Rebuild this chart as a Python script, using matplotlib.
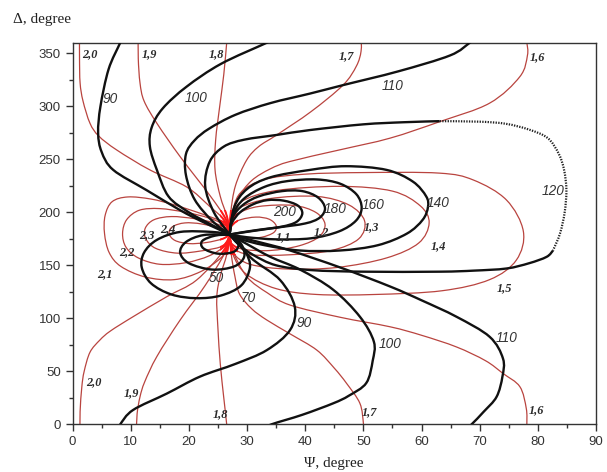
import numpy as np
import matplotlib
matplotlib.use("Agg")
import matplotlib.pyplot as plt
from matplotlib.path import Path
from matplotlib.patches import PathPatch, Rectangle

# ---------------- data (Psi, Delta) ----------------
C = (27.0, 179.0)

# black curves: constant film thickness d
D30 = [C, (24.5, 178), (22.3, 173), (22.5, 166), (25, 161), (27.8, 163), (28.5, 171), C]
D50 = [C, (22.5, 178.5), (19.5, 172), (18.5, 162), (20, 152), (24, 146), (27.8, 149), (29.5, 158), (29, 170), C]
D70 = [C, (24, 181.5), (18.5, 181.5), (14.5, 174), (12.3, 162), (11.9, 148), (13.5, 133), (17, 122.5),
       (21.3, 119), (25.5, 121.5), (29, 131), (30.5, 148), (29.8, 162), (28.3, 172), C]
D90_UP = [C, (25.3, 183.5), (22, 192), (18.5, 202), (12.7, 221), (7, 240), (5, 257), (4.4, 275), (4.8, 300),
          (6.2, 335), (8.2, 360), (8.8, 368)]
D90_LO = [C, (29, 167), (31.1, 155), (35.7, 136), (38.2, 111), (37.4, 89), (33.4, 70), (28, 57), (21.9, 45),
          (16.2, 29), (10.4, 13.5), (8.2, 0), (7.7, -6)]
D100_UP = [C, (24, 188), (20, 200), (16.5, 215), (14.5, 240), (13.3, 262), (13.6, 280), (15.5, 298),
           (19.6, 318.5), (25.5, 340), (33.4, 360), (35.5, 366)]
D100_LO = [C, (30, 170), (34, 158), (39.1, 146), (44.8, 127), (49.4, 101.5), (51.8, 78), (51.6, 60),
           (50.5, 39), (47.5, 27), (44.8, 19.8), (39.5, 9), (34.2, 0), (32.8, -4)]
D110_UP = [C, (24, 192), (21, 212), (19.5, 235), (19.5, 255), (21, 268), (23.5, 279), (28, 292), (34, 303),
           (40.8, 312), (46.5, 320), (56, 333), (64.9, 348), (68.3, 360), (69.6, 365)]
D110_LO = [C, (32, 172), (37.4, 164), (46, 148), (54.6, 130), (60, 117), (66, 101.5), (71.7, 82.6), (74, 62),
           (73.9, 45), (72.9, 26), (70.7, 12), (68.6, 0), (67.5, -5)]
D120_A = [C, (24.3, 200), (22.8, 225), (23.6, 248), (26, 262), (29.5, 268.5), (35.1, 273), (40.8, 277.6),
          (50, 283), (57, 285), (63.1, 286)]
D120_DOT = [(63.1, 286), (70, 285.5), (74.5, 283.5), (78.5, 278), (81.7, 270), (83.6, 255), (84.5, 240),
            (84.9, 221), (84.6, 200), (83.8, 180), (82.6, 164)]
D120_B = [(82.6, 164), (81.5, 158), (78.5, 152), (74.6, 147), (69, 145), (63.1, 144), (50, 144), (41, 145.5),
          (35, 150), (31, 160), (28.5, 170), C]
D140 = [C, (27.8, 205), (30, 222), (34, 233), (40.8, 240), (47, 243.5), (54, 240), (58.5, 229), (60.8, 215),
        (61.1, 205), (60.2, 193), (57.5, 180), (52.5, 169), (46, 164), (39, 164), (33, 169), (29, 174.5), C]
D160 = [C, (27.6, 198), (29.5, 213), (33, 224), (37, 229.5), (42, 231), (46, 227), (48.8, 217), (49.7, 204),
        (48.7, 192), (45.8, 182), (41, 175.5), (35, 174.5), (30, 176.5), C]
D180 = [C, (27.5, 195), (29.3, 207), (32, 215), (36, 220), (39.5, 220), (42.2, 214), (43.4, 204), (42.5, 195),
        (40, 189.5), (35, 185.5), (30.5, 182), C]
D200 = [C, (27.4, 190), (28.8, 200), (31, 207.5), (33.5, 211.5), (36.3, 211), (38.7, 206.5), (39.5, 199),
        (38.5, 191), (36, 186.5), (32, 183.5), (29, 181), C]

# red curves: constant refractive index n
N11 = [C, (27.2, 186), (28.6, 192.5), (31.5, 195.5), (33.8, 193.5), (35, 187.5), (34.6, 181), (32.5, 176.5),
       (29.8, 175.5), (27.8, 176.5), C]
N12 = [C, (27.2, 190), (28.5, 199), (32, 205.5), (38, 206.5), (41.8, 200), (43.4, 189), (42.4, 177), (39, 168.5),
       (34, 164), (29.5, 165), (27.4, 170), C]
N13 = [C, (27.2, 192), (28.6, 204), (34, 213), (42, 215), (47.5, 207), (50.2, 192), (49.2, 175), (44.5, 164),
       (37.5, 160), (30.5, 160), (27.5, 167), C]
N14 = [C, (27.2, 194), (29, 210), (35, 220.5), (46, 224.5), (55, 220), (59.8, 206), (61.3, 190), (59.5, 171),
       (54, 157), (45.5, 148), (37, 146.5), (30.5, 151), (27.6, 162), C]
N15 = [C, (27.3, 196), (28.8, 218), (33, 231), (40, 236), (50, 237.5), (63, 237), (68.9, 230.5), (74.6, 211.6),
       (77.5, 182), (76.3, 155), (71.7, 136.5), (63.5, 126), (52, 122.5), (42, 122.5), (35, 128), (29.8, 142),
       (27.6, 160), C]
N16_UP = [C, (27.3, 196), (28.5, 214), (30.8, 230), (34, 241), (37.4, 248), (46, 259), (54.6, 270), (63.1, 285.5),
          (71.7, 303), (76.9, 328), (78.2, 348), (78.1, 360), (77.9, 366)]
N16_LO = [C, (27.6, 163), (30, 139), (33.5, 124), (37.4, 112.5), (46, 101), (54.6, 92), (60, 84), (66, 73),
          (71, 60), (74, 48), (76.9, 35.5), (78, 15), (78.1, 0), (78.1, -6)]
N17_UP = [C, (27.2, 200), (28, 225), (29.9, 249), (32, 262), (35.1, 273), (41, 295), (46.5, 320), (48.8, 338),
          (49.6, 352), (49.6, 366)]
N17_LO = [C, (27.3, 160), (27.9, 140), (28.7, 123), (30.8, 109), (33.4, 98.4), (37.5, 85), (42, 70), (45, 53),
          (47.1, 38.7), (49.4, 19.8), (50, 1), (50, -6)]
N18_UP = [C, (26.6, 195), (25.4, 215), (24.5, 240), (24.6, 268), (25.3, 300), (26, 330), (26.5, 360), (26.6, 366)]
N18_LO = [C, (26.5, 160), (25.4, 140), (24.8, 120), (25, 90), (25.4, 57), (26, 25), (26.5, 0), (26.5, -6)]
N19_UP = [C, (26.3, 194), (23.6, 216), (18.5, 252.5), (14.5, 284), (12.3, 305), (11.6, 322), (11.3, 345),
          (11.3, 366)]
N19_LO = [C, (26.3, 163), (22.8, 131), (18.5, 98.4), (14.5, 64), (12.4, 40), (11.6, 26), (11.1, 10), (11, -6)]
N20_UP = [C, (26, 193), (23.5, 206), (19.6, 224), (13.3, 240), (7.6, 258.8), (4.5, 272), (3, 284), (1.8, 305),
          (1.3, 322), (1.2, 345), (1.2, 366)]
N20_LO = [C, (26, 164), (21.3, 136), (16.2, 120.4), (10.4, 101.5), (6.5, 88), (4.7, 79.5), (3, 68), (2, 50),
          (1.6, 35.5), (1.3, 12), (1.3, -6)]
N21 = [C, (26.5, 189), (22.5, 198), (17.5, 207), (13.5, 212.5), (9.5, 214.5), (6.8, 210), (5.6, 197), (5.5, 180),
       (6.3, 162), (8.3, 149), (12.5, 139), (17.5, 136.5), (22, 144), (25.5, 157), (26.7, 168), C]
N22 = [C, (26.5, 187), (23.5, 194.5), (19.5, 200), (15, 203.5), (11.5, 202), (9.3, 193), (8.6, 180), (9.2, 167),
       (11.3, 157), (15, 151), (19.5, 152.5), (23.5, 159), (26.3, 169), C]
N23 = [C, (26.4, 185), (24, 190.5), (21, 194), (17, 196), (14, 193), (12.5, 185), (12.6, 175), (14.3, 166),
       (18, 161.5), (22, 163.5), (25.5, 167.5), (26.6, 173), C]
N24 = [C, (25.8, 184), (22.2, 189), (19.3, 190), (17.2, 186.5), (16.6, 180), (17.6, 173.5), (20, 170.5),
       (23, 171.5), (25.8, 175), C]

BLACK_SOLID = [D30, D50, D70, D90_UP, D90_LO, D100_UP, D100_LO, D110_UP, D110_LO, D120_A, D120_B,
               D140, D160, D180, D200]
BLACK_DOTTED = [D120_DOT]
RED = [N11, N12, N13, N14, N15, N16_UP, N16_LO, N17_UP, N17_LO, N18_UP, N18_LO, N19_UP, N19_LO,
       N20_UP, N20_LO, N21, N22, N23, N24]

D_LABELS = ["200", "180", "160", "140", "120", "110", "110", "100", "100", "90", "90", "70", "50"]
D_LABEL_AT = [(36.5, 200), (45.1, 202.8), (51.7, 206.9), (62.9, 209), (82.6, 220.4), (55.1, 319), (74.6, 81),
              (21.3, 307.5), (54.6, 76), (6.4, 307), (39.8, 95.3), (30.2, 118.9), (24.8, 137.7)]
N_LABELS = ["1,1", "1,2", "1,3", "1,4", "1,5", "1,6", "1,6", "1,7", "1,7", "1,8", "1,8", "1,9", "1,9",
            "2,0", "2,0", "2,1", "2,2", "2,3", "2,4"]
N_LABEL_AT = [(36.2, 177), (42.8, 181.7), (51.4, 185.8), (62.9, 168.2), (74.3, 128.9), (80, 346), (79.8, 13.5),
              (47.1, 347.7), (51.1, 11.9), (24.7, 349.3), (25.5, 9.4), (13.3, 349), (10.1, 29), (3, 349),
              (3.6, 40), (5.5, 141.8), (9.3, 162.8), (12.7, 178.6), (16.3, 184)]


def smooth_path(pts):
    P = np.asarray(pts, float)
    n = len(P)
    verts = [P[0]]
    codes = [Path.MOVETO]
    for i in range(n - 1):
        p0 = P[i - 1] if i > 0 else P[i]
        p1 = P[i]
        p2 = P[i + 1]
        p3 = P[i + 2] if i + 2 < n else P[i + 1]
        verts += [p1 + (p2 - p0) / 6.0, p2 - (p3 - p1) / 6.0, p2]
        codes += [Path.CURVE4] * 3
    return Path(verts, codes)


fig = plt.figure(figsize=(6.07, 4.72), dpi=100)
ax = fig.add_axes([0.1195, 0.101, 0.8625, 0.8085])
ax.set_xlim(0, 90)
ax.set_ylim(0, 360)

red_col = "#b9443f"
blob = Rectangle((25.4, 160), 3.0, 42, transform=ax.transData)
for pts in RED:
    ax.add_patch(PathPatch(smooth_path(pts), fill=False, edgecolor=red_col, lw=0.9, zorder=2))
    hot = PathPatch(smooth_path(pts), fill=False, edgecolor="#ff1a1a", lw=1.4, zorder=2.5)
    ax.add_patch(hot)
    hot.set_clip_path(blob)
for pts in BLACK_SOLID:
    ax.add_patch(PathPatch(smooth_path(pts), fill=False, edgecolor="#111111", lw=1.7, zorder=3))
for pts in BLACK_DOTTED:
    ax.add_patch(PathPatch(smooth_path(pts), fill=False, edgecolor="#222222", lw=1.6,
                           linestyle=(0, (0.6, 0.6)), zorder=3))

for txt, (x, y) in zip(D_LABELS, D_LABEL_AT):
    ax.text(x, y, txt, fontsize=9.8, style="italic", family="Liberation Sans", color="#333333",
            ha="center", va="center", zorder=5)
for txt, (x, y) in zip(N_LABELS, N_LABEL_AT):
    ax.text(x, y, txt, fontsize=8.8, style="italic", weight="bold", family="Liberation Serif",
            color="#2a2a2a", ha="center", va="center", zorder=5)

ax.set_xticks(np.arange(0, 91, 10))
ax.set_xticks(np.arange(5, 90, 10), minor=True)
ax.set_yticks(np.arange(0, 351, 50))
ax.set_yticks(np.arange(25, 360, 50), minor=True)
ax.tick_params(which="major", direction="out", length=5, width=1, labelsize=9.5, colors="#333333")
ax.tick_params(which="minor", direction="out", length=3, width=1, colors="#333333")
ax.tick_params(top=False, right=False)
for lab in ax.get_xticklabels() + ax.get_yticklabels():
    lab.set_family("Liberation Sans")
for s in ax.spines.values():
    s.set_linewidth(1.0)
    s.set_color("#333333")

fig.text(13 / 607, 1 - 19 / 472, "Δ, degree", fontsize=11, family="Liberation Serif", ha="left", va="center",
         color="#222222")
fig.text(334 / 607, 1 - 463 / 472, "Ψ, degree", fontsize=11, family="Liberation Serif", ha="center",
         va="center", color="#222222")

fig.savefig("out.png", dpi=100)
